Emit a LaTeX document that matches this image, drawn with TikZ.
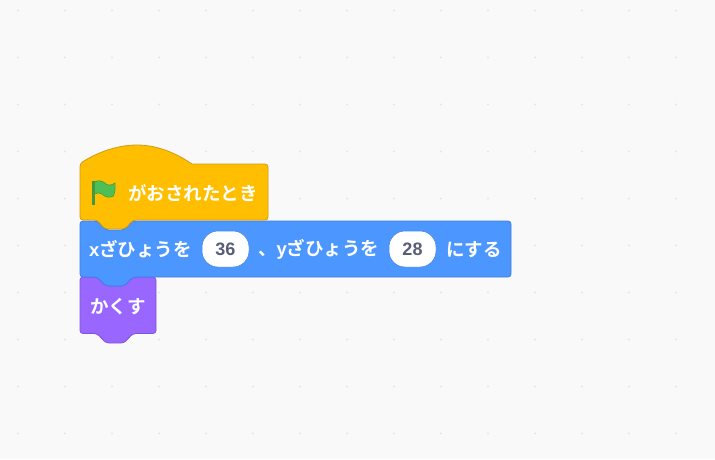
\documentclass[tikz,border=0pt]{standalone}
\usepackage{fontspec}
\setsansfont{Liberation Sans}
\newfontfamily\jpfont{Noto Sans CJK JP}[BoldFont={Noto Sans CJK JP Bold}]
\usepackage{xcolor}
\definecolor{stagebg}{HTML}{F9F9F9}
\definecolor{griddot}{HTML}{E6E6E6}
\definecolor{eventfill}{HTML}{FFBF00}
\definecolor{eventline}{HTML}{CF9A17}
\definecolor{motionfill}{HTML}{4C97FF}
\definecolor{motionline}{HTML}{3F7FE0}
\definecolor{looksfill}{HTML}{9966FF}
\definecolor{looksline}{HTML}{7F55DB}
\definecolor{flagfill}{HTML}{4CBF56}
\definecolor{flagline}{HTML}{45993D}
\definecolor{numtext}{HTML}{575E75}
\tikzset{
  eventblock/.style={fill=eventfill,draw=eventline,line width=0.8pt},
  motionblock/.style={fill=motionfill,draw=motionline,line width=0.8pt},
  looksblock/.style={fill=looksfill,draw=looksline,line width=0.8pt},
  blocklabel/.style={text=white,font=\jpfont\bfseries\fontsize{18.5}{20}\selectfont,inner sep=0pt,anchor=west},
  numinput/.style={fill=white,draw=motionline,line width=0.5pt,rounded corners=16pt,minimum width=47pt,minimum height=36pt,inner sep=0pt,text=numtext,font=\sffamily\bfseries\fontsize{18}{20}\selectfont},
}
\begin{document}
\begin{tikzpicture}[x=1pt,y=-1pt]
  \useasboundingbox (0,0) rectangle (715,459);
  \fill[stagebg] (0,0) rectangle (715,459);
  % dots of the workspace
  \foreach \i in {0,...,15} {
    \foreach \j in {0,...,9} {
      \fill[griddot] (18+47*\i,10.5+47*\j) circle[radius=1.1pt];
    }
  }
  % kakusu
  \draw[looksblock,rounded corners=3pt] (80,277) -- (97,277) -- (106,286) -- (124,286) -- (133,277) -- (156,277) -- (156,333.5) -- (133,333.5) -- (124,343) -- (106,343) -- (97,333.5) -- (80,333.5) -- cycle;
  % x y
  \draw[motionblock,rounded corners=3pt] (80,221) -- (97,221) -- (106,230) -- (124,230) -- (133,221) -- (511,221) -- (511,277) -- (133,277) -- (124,286) -- (106,286) -- (97,277) -- (80,277) -- cycle;
  % hat
  \draw[eventblock,line join=round] (80,190) [rounded corners=3pt] -- (80,163.5) [sharp corners] .. controls (98,152) and (118,145) .. (137,145) .. controls (157,145) and (176,153) .. (192,164) [rounded corners=3pt] -- (268,164) -- (268,220) -- (133,220) -- (125,229) -- (105,229) -- (97,220) -- (80,220) -- cycle;
  % flag
  \draw[flagline,line width=2.2pt] (93.5,181) -- (93.5,205);
  \draw[fill=flagfill,draw=flagline,line width=0.6pt,line join=round] (94.5,182) .. controls (99,179.5) and (103,181) .. (106,184) .. controls (109,186) and (112,185) .. (115,183) .. controls (115.5,188) and (115,192) .. (113.5,196) .. controls (109,198.5) and (105,197) .. (102,194) .. controls (100,192.5) and (97,192.5) .. (94.5,194) -- cycle;
  \node[blocklabel] (whenflag) at (128,193.5) {がおされたとき};
  \node[blocklabel] (setx) at (89,249.5) {{\sffamily x}ざひょうを};
  \node[numinput] (xval) at (225.5,249) {36};
  \node[blocklabel] (comma) at (258,249.5) {、{\sffamily y}ざひょうを};
  \node[numinput] (yval) at (412.5,249) {28};
  \node[blocklabel] (suru) at (446,249.5) {にする};
  \node[blocklabel] (hide) at (90,306.5) {かくす};
\end{tikzpicture}
\end{document}
